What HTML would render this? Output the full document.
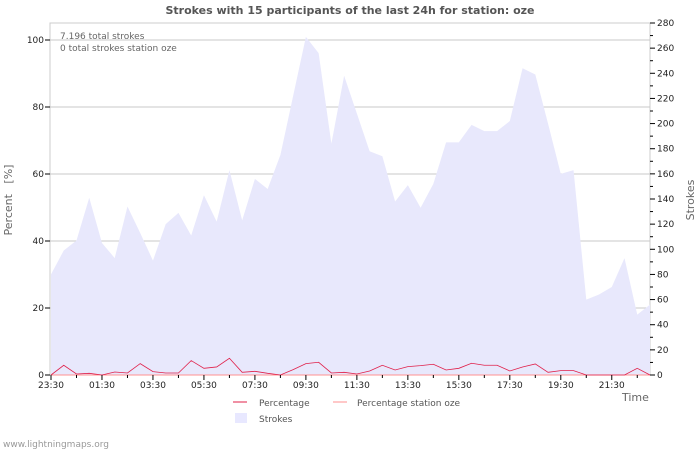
<!DOCTYPE html>
<html><head><meta charset="utf-8"><style>
body{margin:0;background:#fff;font-family:"Liberation Sans","DejaVu Sans",sans-serif}
svg text{font-family:"DejaVu Sans","Liberation Sans",sans-serif}
</style></head><body>
<svg id="chart" width="700" height="450" viewBox="0 0 700 450" xmlns="http://www.w3.org/2000/svg">
<text x="350" y="14" text-anchor="middle" font-size="11" font-weight="bold" fill="#555">Strokes with 15 participants of the last 24h for station: oze</text>
<g id="grid"></g>
<g id="area"></g>
<g id="lines"></g>
<g id="axes"></g>
<text x="60" y="39" font-size="9" fill="#666">7.196 total strokes</text>
<text x="60" y="51" font-size="9" fill="#666">0 total strokes station oze</text>
<text transform="translate(12,200) rotate(-90)" text-anchor="middle" font-size="11" fill="#666">Percent &#160; [%]</text>
<text transform="translate(694,200) rotate(-90)" text-anchor="middle" font-size="11" fill="#666">Strokes</text>
<text x="622" y="401" font-size="11" fill="#666">Time</text>
<g>
<line x1="233" y1="402" x2="247" y2="402" stroke="#e0204a" stroke-width="1"/>
<text x="259" y="406" font-size="9" fill="#555">Percentage</text>
<line x1="333" y1="402" x2="347" y2="402" stroke="#ff9090" stroke-width="1"/>
<text x="357" y="406" font-size="9" fill="#555">Percentage station oze</text>
<rect x="235" y="413" width="12" height="10" fill="#e8e8ff"/>
<text x="259" y="422" font-size="9" fill="#555">Strokes</text>
</g>
<text x="3" y="447" font-size="9" fill="#999">www.lightningmaps.org</text>
</svg>
<script>
const strokes=[80,99,107,141,105,93,134,113,91,120,129,111,143,122,163,123,156,148,175,222,269,256,184,238,208,178,174,138,151,133,152,185,185,199,194,194,202,244,239,200,160,163,60,64,70,93,48,56];
const percentage=[0,2.9,0.3,0.5,0,0.9,0.6,3.4,1,0.6,0.6,4.3,2,2.4,5,0.8,1.1,0.5,0,1.6,3.4,3.8,0.6,0.8,0.3,1.2,2.9,1.5,2.5,2.8,3.2,1.5,2,3.5,2.9,2.9,1.2,2.4,3.3,0.8,1.3,1.3,0,0,0,0,2,0];
const stationPct=new Array(48).fill(0);
const xLabels=["23:30","01:30","03:30","05:30","07:30","09:30","11:30","13:30","15:30","17:30","19:30","21:30"];
const leftTicks=[0,20,40,60,80,100];
const rightTicks=[0,20,40,60,80,100,120,140,160,180,200,220,240,260,280];
</script>
<script>
const NS="http://www.w3.org/2000/svg";
const X0=51,X1=650,YB=375;
const n=strokes.length;
const xs=i=>X0+(X1-X0)*i/(n-1);
const yP=v=>YB-v*3.35;
const yS=v=>YB-v*(352/280);
function mk(tag,attrs,parent){const e=document.createElementNS(NS,tag);for(const k in attrs)e.setAttribute(k,attrs[k]);parent.appendChild(e);return e;}
const grid=document.getElementById('grid'),area=document.getElementById('area'),lines=document.getElementById('lines'),axes=document.getElementById('axes');
let e=mk('rect',{x:50,y:23,width:600,height:352,fill:'none',stroke:'#ccc'},grid);


leftTicks.forEach(v=>{
  if(v>0){const g=mk('line',{x1:50,x2:650,y1:yP(v),y2:yP(v),stroke:'#c8c8c8'},grid);
  
  }
  mk('line',{x1:45,x2:50,y1:yP(v),y2:yP(v),stroke:'#000'},axes);
  const t=mk('text',{x:44,y:yP(v)+3,'text-anchor':'end','font-size':9,fill:'#222'},axes);t.textContent=v;
  
  
});
for(let v=0;v<=280;v+=10){mk('line',{x1:650,x2:v%20?653:655,y1:yS(v),y2:yS(v),stroke:'#000'},axes);}
rightTicks.forEach(v=>{const t=mk('text',{x:657,y:yS(v)+3,'font-size':9,fill:'#222'},axes);t.textContent=v;
  
  });
for(let i=0;i<n;i+=2){mk('line',{x1:xs(i),x2:xs(i),y1:YB,y2:YB+(i%4?3:5),stroke:'#000'},axes);}
xLabels.forEach((l,k)=>{const t=mk('text',{x:xs(k*4),y:388,'text-anchor':'middle','font-size':9,fill:'#222'},axes);t.textContent=l;
  
  });
let d='M'+xs(0)+','+YB;strokes.forEach((v,i)=>d+=' L'+xs(i)+','+yS(v));d+=' L'+xs(n-1)+','+YB+' Z';
e=mk('path',{d:d,fill:'#e8e8fc'},area);


e=mk('polyline',{points:stationPct.map((v,i)=>xs(i)+','+yP(v)).join(' '),fill:'none',stroke:'#ff9090'},lines);


e=mk('polyline',{points:percentage.map((v,i)=>xs(i)+','+yP(v)).join(' '),fill:'none',stroke:'#e0204a','stroke-width':0.8},lines);


</script>
</body></html>
